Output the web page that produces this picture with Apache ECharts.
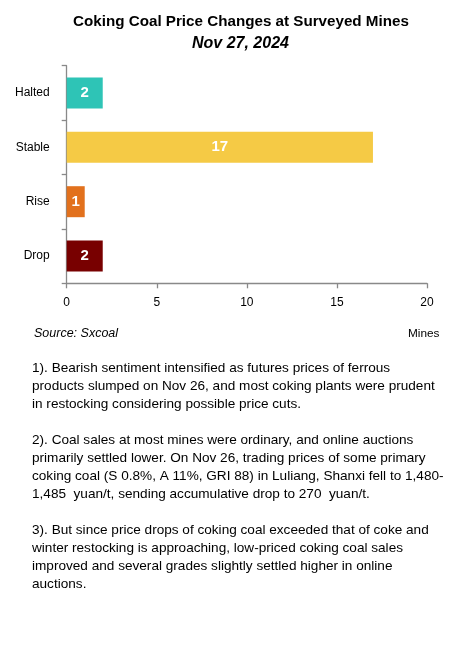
<!DOCTYPE html>
<html>
<head>
<meta charset="utf-8">
<script src="https://cdn.jsdelivr.net/npm/echarts@6/dist/echarts.min.js"></script>
<style>
  html, body { margin: 0; padding: 0; background: #fff; }
  #chart { width: 464px; height: 645px; }
</style>
</head>
<body>
<div id="chart"></div>
<script>
// data, top to bottom on the chart
var categories = ['Drop', 'Rise', 'Stable', 'Halted'];
var mines = [2, 1, 17, 2];
var barColors = ['#780000', '#E2711D', '#F5CA45', '#2EC4B6'];
var xTicks = [0, 5, 10, 15, 20];

var notes = [
    '1). Bearish sentiment intensified as futures prices of ferrous\nproducts slumped on Nov 26, and most coking plants were prudent\nin restocking considering possible price cuts.',
    '2). Coal sales at most mines were ordinary, and online auctions\nprimarily settled lower. On Nov 26, trading prices of some primary\ncoking coal (S 0.8%, A 11%, GRI 88) in Luliang, Shanxi fell to 1,480-\n1,485  yuan/t, sending accumulative drop to 270  yuan/t.',
    '3). But since price drops of coking coal exceeded that of coke and\nwinter restocking is approaching, low-priced coking coal sales\nimproved and several grades slightly settled higher in online\nauctions.'
];
var noteTops = [359.5, 431.7, 521];

var fontFam = '"Liberation Sans", "Open Sans", sans-serif';
var chart = echarts.init(document.getElementById('chart'));

var noteGraphics = [];
for (var i = 0; i < notes.length; i++) {
    noteGraphics.push({
        type: 'text',
        left: 32,
        top: noteTops[i],
        style: {
            text: notes[i],
            font: '13.6px ' + fontFam,
            lineHeight: 18,
            fill: '#000'
        }
    });
}

var option = {
    backgroundColor: '#fff',
    animation: false,
    title: [{
        text: 'Coking Coal Price Changes at Surveyed Mines',
        left: 68,
        top: 9,
        textStyle: { fontFamily: fontFam, fontSize: 15.2, fontWeight: 'bold', color: '#000' }
    }, {
        text: 'Nov 27, 2024',
        left: 187,
        top: 31,
        textStyle: { fontFamily: fontFam, fontSize: 16, fontWeight: 'bold', fontStyle: 'italic', color: '#000' }
    }],
    grid: { left: 66.7, right: 37, top: 65.7, bottom: 361.7, containLabel: false },
    xAxis: {
        type: 'value',
        min: xTicks[0],
        max: xTicks[xTicks.length - 1],
        interval: xTicks[1] - xTicks[0],
        axisLine: { show: true, lineStyle: { color: '#898989', width: 1.3 } },
        axisTick: { show: true, length: 5, lineStyle: { color: '#898989', width: 1.3 } },
        axisLabel: { color: '#000', fontFamily: fontFam, fontSize: 12, margin: 13 },
        splitLine: { show: false }
    },
    yAxis: {
        type: 'category',
        data: categories,
        axisLine: { show: true, lineStyle: { color: '#898989', width: 1.3 } },
        axisTick: { show: true, length: 5, lineStyle: { color: '#898989', width: 1.3 } },
        axisLabel: { color: '#000', fontFamily: fontFam, fontSize: 12, margin: 17 }
    },
    series: [{
        type: 'bar',
        barWidth: 31,
        data: mines.map(function (v, i) {
            return { value: v, itemStyle: { color: barColors[i] } };
        }),
        label: {
            show: true,
            position: 'inside',
            color: '#fff',
            fontFamily: fontFam,
            fontSize: 15,
            fontWeight: 'bold'
        }
    }],
    graphic: [
        {
            type: 'text', left: 34, top: 327,
            style: { text: 'Source: Sxcoal', font: 'italic 12.5px ' + fontFam, fill: '#000' }
        },
        {
            type: 'text', left: 408, top: 328,
            style: { text: 'Mines', font: '11.8px ' + fontFam, fill: '#000' }
        }
    ].concat(noteGraphics)
};

chart.setOption(option);
</script>
</body>
</html>
